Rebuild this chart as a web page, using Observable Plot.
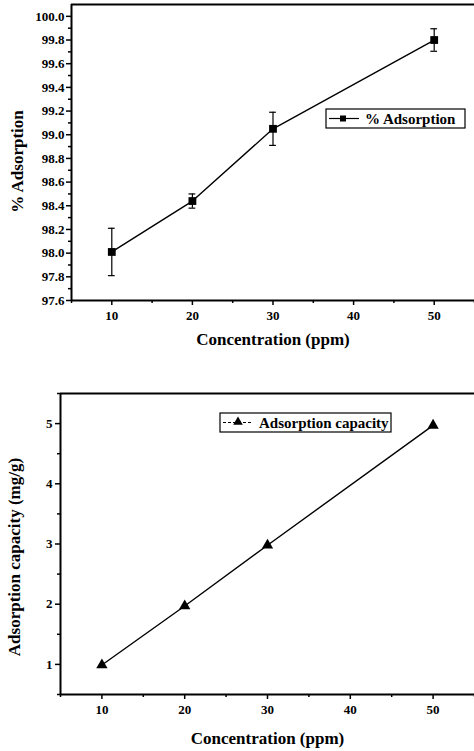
<!DOCTYPE html>
<html>
<head>
<meta charset="utf-8">
<script src="https://cdn.jsdelivr.net/npm/d3@7"></script>
<script src="https://cdn.jsdelivr.net/npm/@observablehq/plot@0.6"></script>
<style>
  html, body { margin: 0; padding: 0; background: #fff; overflow: hidden; }
  #wrap { position: relative; width: 474px; height: 751px; }
  #top, #bottom { position: absolute; left: 0; }
  #top { top: 0; }
  #bottom { top: 360px; }
  .legend { position: absolute; }
  svg { display: block; }
</style>
</head>
<body>
<div id="wrap">
  <div id="top"></div>
  <div id="bottom"></div>
</div>
<script>
// ---- data ----
const concentration = [10, 20, 30, 50];
const adsorptionPct = [98.01, 98.44, 99.05, 99.80];
const adsorptionErr = [0.20, 0.06, 0.14, 0.095];
const adsorptionCapacity = [0.99, 1.97, 2.98, 4.97];

const xTicks = [10, 20, 30, 40, 50];
const xMinorTicks = [5, 15, 25, 35, 45, 55];
const yTicksTop = [97.6, 97.8, 98.0, 98.2, 98.4, 98.6, 98.8, 99.0, 99.2, 99.4, 99.6, 99.8, 100.0];
const yMinorTop = [97.7, 97.9, 98.1, 98.3, 98.5, 98.7, 98.9, 99.1, 99.3, 99.5, 99.7, 99.9];
const yTicksBottom = [1, 2, 3, 4, 5];
const yMinorBottom = [0.5, 1.5, 2.5, 3.5, 4.5, 5.5];

const xLabel = "Concentration (ppm)";
const yLabelTop = "% Adsorption";
const yLabelBottom = "Adsorption capacity (mg/g)";
const legendTop = "% Adsorption";
const legendBottom = "Adsorption capacity";

const topData = concentration.map((c, i) => ({c, v: adsorptionPct[i], e: adsorptionErr[i]}));
const bottomData = concentration.map((c, i) => ({c, v: adsorptionCapacity[i]}));

const font = "'Liberation Serif', 'Times New Roman', serif";
const baseStyle = {fontFamily: font, fontWeight: "bold", fontSize: "13px", color: "#000", background: "#fff", overflow: "visible"};

// ---- top chart ----
const topPlot = Plot.plot({
  width: 474, height: 360,
  marginTop: 4, marginLeft: 71, marginRight: 0, marginBottom: 60,
  style: baseStyle,
  x: {domain: [5, 55]},
  y: {domain: [97.6, 100.1]},
  marks: [
    Plot.ruleY([100.1], {strokeWidth: 2}),
    Plot.ruleX([5], {strokeWidth: 2}),
    Plot.ruleY([97.6], {strokeWidth: 2}),
    Plot.axisX({ticks: xTicks, tickSize: 5, strokeWidth: 1.5, tickPadding: 5, label: null, fontSize: 13}),
    Plot.axisX({ticks: xMinorTicks, tickSize: 3, strokeWidth: 1.5, text: null, label: null}),
    Plot.axisY({ticks: yTicksTop, tickSize: 5, strokeWidth: 1.5, tickPadding: 2, tickFormat: d3.format(".1f"), label: null, fontSize: 13}),
    Plot.axisY({ticks: yMinorTop, tickSize: 3, strokeWidth: 1.5, text: null, label: null}),
    Plot.text([xLabel], {frameAnchor: "bottom", dy: 44, fontSize: 17, fontWeight: "bold", fontFamily: font}),
    Plot.text([yLabelTop], {frameAnchor: "left", textAnchor: "middle", dx: -54, dy: 9, rotate: -90, fontSize: 17, fontWeight: "bold", fontFamily: font}),
    Plot.line(topData, {x: "c", y: "v", stroke: "#000", strokeWidth: 1.4}),
    Plot.ruleX(topData, {x: "c", y1: d => d.v - d.e, y2: d => d.v + d.e, strokeWidth: 1.2}),
    Plot.ruleY(topData, {y: d => d.v + d.e, x1: d => d.c - 0.42, x2: d => d.c + 0.42, strokeWidth: 1.2}),
    Plot.ruleY(topData, {y: d => d.v - d.e, x1: d => d.c - 0.42, x2: d => d.c + 0.42, strokeWidth: 1.2}),
    Plot.dot(topData, {x: "c", y: "v", symbol: "square", r: 4.4, fill: "#000", stroke: "none"})
  ]
});
document.getElementById("top").appendChild(topPlot);

// ---- bottom chart ----
const bottomPlot = Plot.plot({
  width: 474, height: 391,
  marginTop: 33, marginLeft: 60, marginRight: 0, marginBottom: 57,
  style: baseStyle,
  x: {domain: [5, 55]},
  y: {domain: [0.5, 5.5]},
  marks: [
    Plot.ruleY([5.5], {strokeWidth: 2}),
    Plot.ruleX([5], {strokeWidth: 2}),
    Plot.ruleY([0.5], {strokeWidth: 2}),
    Plot.axisX({ticks: xTicks, tickSize: 5, strokeWidth: 1.5, tickPadding: 5, label: null, fontSize: 13}),
    Plot.axisX({ticks: xMinorTicks, tickSize: 3, strokeWidth: 1.5, text: null, label: null}),
    Plot.axisY({ticks: yTicksBottom, tickSize: 5, strokeWidth: 1.5, tickPadding: 3, tickFormat: d3.format("d"), label: null, fontSize: 13}),
    Plot.axisY({ticks: yMinorBottom, tickSize: 3, strokeWidth: 1.5, text: null, label: null}),
    Plot.text([xLabel], {frameAnchor: "bottom", dy: 49, fontSize: 17, fontWeight: "bold", fontFamily: font}),
    Plot.text([yLabelBottom], {frameAnchor: "left", textAnchor: "middle", dx: -46, dy: 13, rotate: -90, fontSize: 17, fontWeight: "bold", fontFamily: font}),
    Plot.line(bottomData, {x: "c", y: "v", stroke: "#000", strokeWidth: 1.4}),
    Plot.dot(bottomData, {x: "c", y: "v", symbol: "triangle", r: 4.2, fill: "#000", stroke: "none"})
  ]
});
document.getElementById("bottom").appendChild(bottomPlot);

// ---- legends ----
function legend(left, top, w, text, kind) {
  const svg = d3.create("svg").attr("class", "legend")
    .attr("width", w + 4).attr("height", 23)
    .style("left", left + "px").style("top", top + "px");
  svg.append("rect").attr("x", 1).attr("y", 1).attr("width", w).attr("height", 19)
    .attr("fill", "#fff").attr("stroke", "#000").attr("stroke-width", 1.2);
  const line = svg.append("line").attr("x1", 4).attr("x2", 34).attr("y1", 10.5).attr("y2", 10.5)
    .attr("stroke", "#000").attr("stroke-width", 1.2);
  if (kind === "square") {
    svg.append("rect").attr("x", 15).attr("y", 7.5).attr("width", 6).attr("height", 6).attr("fill", "#000");
  } else {
    line.attr("stroke-dasharray", "3,2");
    svg.append("path").attr("d", d3.symbol(d3.symbolTriangle, 40)()).attr("transform", "translate(19,10)").attr("fill", "#000");
  }
  svg.append("text").attr("x", 40).attr("y", 15.5)
    .attr("font-family", font).attr("font-weight", "bold").attr("font-size", 15)
    .text(text);
  document.getElementById("wrap").appendChild(svg.node());
}
legend(325, 108, 139, legendTop, "square");
legend(219, 412, 171, legendBottom, "triangle");
</script>
</body>
</html>
